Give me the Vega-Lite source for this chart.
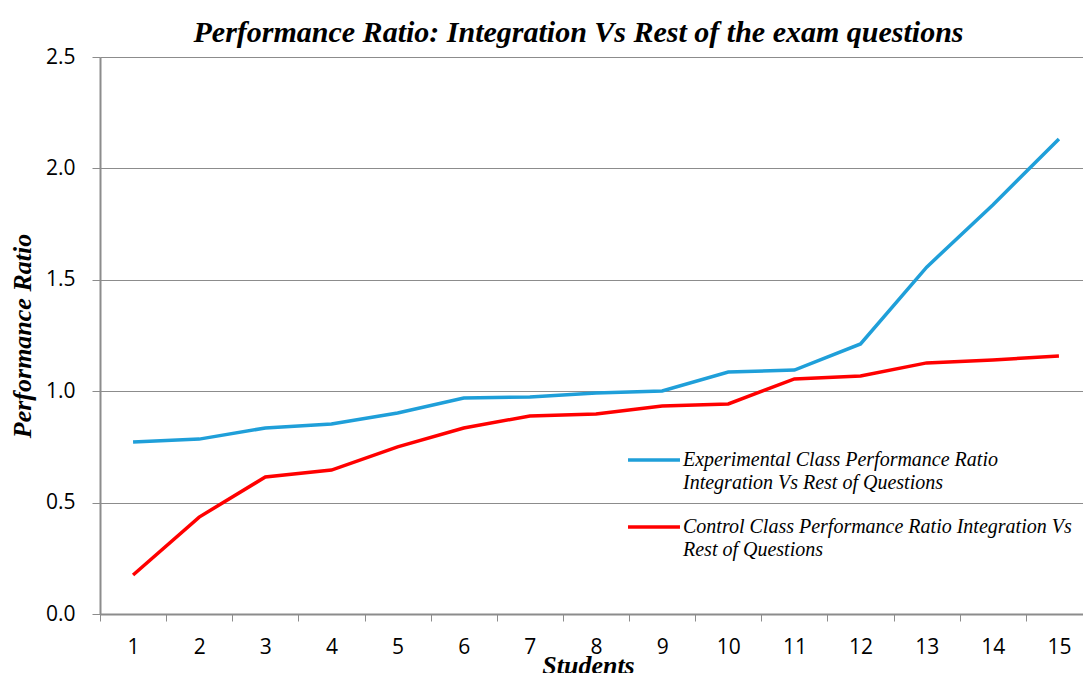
{
  "$schema": "https://vega.github.io/schema/vega-lite/v6.json",
  "autosize": "none",
  "width": 983,
  "height": 557,
  "padding": {"left": 100, "top": 57, "right": 0, "bottom": 59},
  "background": "white",
  "title": {
    "text": "Performance Ratio: Integration Vs Rest of the exam questions",
    "font": "Liberation Serif",
    "fontSize": 30,
    "fontStyle": "italic",
    "fontWeight": "bold",
    "color": "black",
    "anchor": "middle",
    "dx": -13,
    "offset": -2
  },
  "data": {
    "values": [
      {"student": 1, "series": "Experimental", "ratio": 0.772},
      {"student": 2, "series": "Experimental", "ratio": 0.785},
      {"student": 3, "series": "Experimental", "ratio": 0.835},
      {"student": 4, "series": "Experimental", "ratio": 0.853},
      {"student": 5, "series": "Experimental", "ratio": 0.902},
      {"student": 6, "series": "Experimental", "ratio": 0.969},
      {"student": 7, "series": "Experimental", "ratio": 0.974},
      {"student": 8, "series": "Experimental", "ratio": 0.992},
      {"student": 9, "series": "Experimental", "ratio": 1.001},
      {"student": 10, "series": "Experimental", "ratio": 1.086},
      {"student": 11, "series": "Experimental", "ratio": 1.095},
      {"student": 12, "series": "Experimental", "ratio": 1.212},
      {"student": 13, "series": "Experimental", "ratio": 1.557},
      {"student": 14, "series": "Experimental", "ratio": 1.836},
      {"student": 15, "series": "Experimental", "ratio": 2.132},
      {"student": 1, "series": "Control", "ratio": 0.175},
      {"student": 2, "series": "Control", "ratio": 0.435},
      {"student": 3, "series": "Control", "ratio": 0.615},
      {"student": 4, "series": "Control", "ratio": 0.646},
      {"student": 5, "series": "Control", "ratio": 0.750},
      {"student": 6, "series": "Control", "ratio": 0.835},
      {"student": 7, "series": "Control", "ratio": 0.889},
      {"student": 8, "series": "Control", "ratio": 0.898},
      {"student": 9, "series": "Control", "ratio": 0.934},
      {"student": 10, "series": "Control", "ratio": 0.943},
      {"student": 11, "series": "Control", "ratio": 1.055},
      {"student": 12, "series": "Control", "ratio": 1.068},
      {"student": 13, "series": "Control", "ratio": 1.127},
      {"student": 14, "series": "Control", "ratio": 1.140},
      {"student": 15, "series": "Control", "ratio": 1.158}
    ]
  },
  "mark": {"type": "line", "strokeWidth": 3.5, "clip": false},
  "encoding": {
    "x": {
      "field": "student",
      "type": "ordinal",
      "bandPosition": 0.5,
      "scale": {"type": "band", "range": [0, 992], "paddingInner": 0, "paddingOuter": 0},
      "axis": {
        "title": "Students",
        "titleFont": "Liberation Serif",
        "titleFontStyle": "italic",
        "titleFontWeight": "bold",
        "titleFontSize": 26,
        "titleColor": "black",
        "titlePadding": -5,
        "titleX": 488,
        "titleAlign": "center",
        "tickBand": "extent",
        "labelAngle": 0,
        "labelFont": "Open Sans",
        "labelFontSize": 21,
        "labelColor": "black",
        "labelPadding": 15,
        "tickSize": 7,
        "tickColor": "#8c8c8c",
        "domainColor": "#8c8c8c",
        "domainWidth": 2,
        "grid": false
      }
    },
    "y": {
      "field": "ratio",
      "type": "quantitative",
      "scale": {"domain": [0, 2.5], "nice": false, "zero": true},
      "axis": {
        "title": "Performance Ratio",
        "titleFont": "Liberation Serif",
        "titleFontStyle": "italic",
        "titleFontWeight": "bold",
        "titleFontSize": 26,
        "titleColor": "black",
        "titlePadding": 10,
        "values": [0, 0.5, 1, 1.5, 2, 2.5],
        "format": ".1f",
        "labelFont": "Open Sans",
        "labelFontSize": 21,
        "labelColor": "black",
        "labelPadding": 17,
        "tickSize": 8,
        "tickColor": "#8c8c8c",
        "domainColor": "#8c8c8c",
        "domainWidth": 2,
        "grid": true,
        "gridColor": "#8c8c8c",
        "gridWidth": 1.2
      }
    },
    "color": {
      "field": "series",
      "type": "nominal",
      "scale": {"domain": ["Experimental", "Control"], "range": ["#1f9fd9", "#ff0000"]},
      "legend": {
        "orient": "none",
        "legendX": 526,
        "legendY": 375,
        "title": null,
        "padding": 0,
        "symbolType": "stroke",
        "symbolSize": 2700,
        "symbolStrokeWidth": 3.5,
        "labelFont": "Liberation Serif",
        "labelFontStyle": "italic",
        "labelFontSize": 20,
        "labelColor": "black",
        "labelLimit": 600,
        "labelOffset": 1,
        "labelBaseline": "middle",
        "rowPadding": 6,
        "labelExpr": "datum.value == 'Experimental' ? ['Experimental Class Performance Ratio', 'Integration Vs Rest of Questions'] : ['Control Class Performance Ratio Integration Vs', 'Rest of Questions']"
      }
    }
  },
  "config": {
    "view": {"stroke": null},
    "style": {"guide-label": {"lineHeight": 23}}
  }
}
